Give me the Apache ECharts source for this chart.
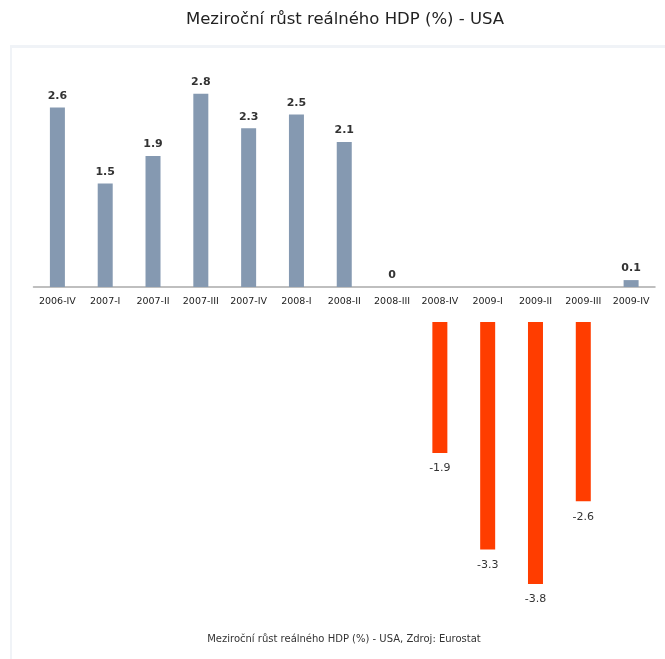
<!DOCTYPE html>
<html>
<head>
<meta charset="utf-8">
<script src="https://cdn.jsdelivr.net/npm/echarts@6/dist/echarts.min.js"></script>
<style>
html, body { margin: 0; padding: 0; background: #fff; }
#chart { width: 665px; height: 659px; }
</style>
</head>
<body>
<div id="chart"></div>
<script>
// kvartály a hodnoty (meziroční růst v %)
var categories = ['2006-IV', '2007-I', '2007-II', '2007-III', '2007-IV', '2008-I', '2008-II',
  '2008-III', '2008-IV', '2009-I', '2009-II', '2009-III', '2009-IV']
var values = [2.6, 1.5, 1.9, 2.8, 2.3, 2.5, 2.1, 0, -1.9, -3.3, -3.8, -2.6, 0.1]

var posValues = values.map(function (v) { return v >= 0 ? v : '-' })
var negValues = values.map(function (v) { return v < 0 ? v : '-' })

var labelFont = 'Tahoma, "DejaVu Sans", sans-serif'
var myChart = echarts.init(document.getElementById('chart'))
var option = {
  animation: false,
  graphic: [
    {
      type: 'text',
      x: 345,
      y: 20,
      style: {
        text: 'Meziroční růst reálného HDP (%) - USA',
        fontSize: 16.5,
        fill: '#222',
        align: 'center',
        verticalAlign: 'middle',
        fontFamily: labelFont
      }
    },
    { type: 'rect', shape: { x: 10, y: 45, width: 655, height: 3 }, style: { fill: '#f0f3f7' } },
    { type: 'rect', shape: { x: 10, y: 45, width: 2, height: 614 }, style: { fill: '#f0f3f7' } },
    {
      type: 'text',
      x: 344,
      y: 639,
      style: {
        text: 'Meziroční růst reálného HDP (%) - USA, Zdroj: Eurostat',
        fontSize: 10,
        fill: '#333',
        align: 'center',
        verticalAlign: 'middle',
        fontFamily: labelFont
      }
    }
  ],
  grid: [
    { left: 33.5, right: 10, top: 80, height: 207 },
    { left: 33.5, right: 10, top: 322, height: 262 }
  ],
  xAxis: [
    {
      gridIndex: 0,
      type: 'category',
      data: categories,
      axisTick: { show: false },
      axisLine: { lineStyle: { color: '#aaa', width: 1.5 } },
      axisLabel: { interval: 0, margin: 10, fontSize: 9.5, color: '#222', fontFamily: labelFont }
    },
    {
      gridIndex: 1,
      type: 'category',
      data: categories,
      show: false
    }
  ],
  yAxis: [
    { gridIndex: 0, type: 'value', min: 0, max: 3, show: false },
    { gridIndex: 1, type: 'value', min: -3.8, max: 0, show: false }
  ],
  series: [
    {
      type: 'bar',
      xAxisIndex: 0,
      yAxisIndex: 0,
      data: posValues,
      barWidth: 15,
      itemStyle: { color: '#8599b1' },
      label: {
        show: true,
        position: 'top',
        distance: 6,
        fontSize: 11,
        fontWeight: 'bold',
        color: '#333',
        fontFamily: labelFont
      }
    },
    {
      type: 'bar',
      xAxisIndex: 1,
      yAxisIndex: 1,
      data: negValues,
      barWidth: 15,
      itemStyle: { color: '#ff3d00' },
      label: {
        show: true,
        position: 'bottom',
        distance: 10,
        fontSize: 11,
        color: '#333',
        fontFamily: labelFont
      }
    }
  ]
}
myChart.setOption(option)
</script>
</body>
</html>
